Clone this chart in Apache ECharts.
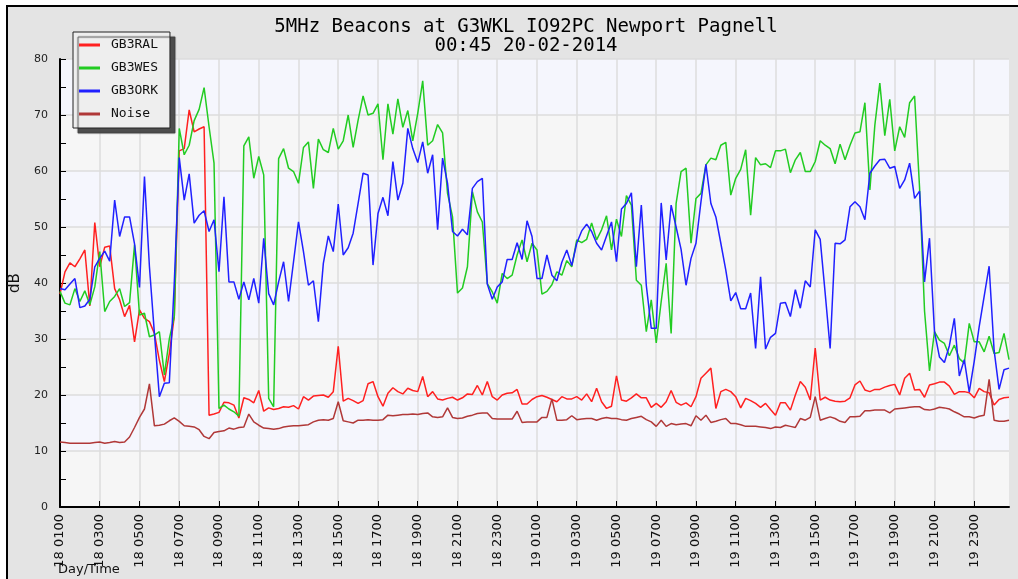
<!DOCTYPE html>
<html>
<head>
<meta charset="utf-8">
<script src="https://cdn.jsdelivr.net/npm/echarts@6/dist/echarts.min.js"></script>
<style>
  html, body { margin: 0; padding: 0; background: #fff; }
  #chart { width: 1018px; height: 579px; }
</style>
</head>
<body>
<div id="chart"></div>
<script>
// 15 minute samples, 18 01:00 .. 20 00:45
const categories = []
for (let i = 0; i < 192; i++) {
  const m = 60 + i * 15
  const day = 18 + Math.floor(m / 1440)
  const hm = m % 1440
  const hh = String(Math.floor(hm / 60)).padStart(2, '0')
  const mm = String(hm % 60).padStart(2, '0')
  categories.push(day + ' ' + hh + mm)
}

const gb3ral = [
  38, 42, 43.6, 42.9, 44.3, 45.9, 35.9, 50.8,
  42.9, 46.4, 46.6, 39, 37, 34, 36, 29.5,
  35.2, 33.7, 33.1, 31, 26.2, 22.4, 27.4, 34,
  63.6, 64, 70.9, 67, 67.5, 67.9, 16.4, 16.6,
  16.9, 18.7, 18.6, 18.2, 15.9, 19.5, 19.2, 18.6,
  20.8, 17.1, 17.7, 17.4, 17.6, 17.9, 17.8, 18.1,
  17.5, 19.7, 19.1, 19.8, 19.9, 20.0, 19.6, 20.6,
  28.7, 18.9, 19.4, 19.0, 18.5, 19.0, 22.0, 22.4,
  19.7, 18.0, 20.3, 21.3, 20.6, 20.2, 21.2, 20.8,
  20.6, 23.3, 19.7, 20.6, 19.3, 19.1, 19.4, 19.6,
  19.1, 19.5, 20.2, 20.1, 21.7, 20.0, 22.4, 19.7,
  19.1, 20.0, 20.3, 20.4, 21.0, 18.4, 18.4, 19.2,
  19.7, 19.9, 19.6, 19.2, 18.8, 19.7, 19.3, 19.3,
  19.7, 19.1, 20.2, 18.8, 21.2, 18.8, 17.6, 18.0,
  23.4, 19.1, 18.9, 19.5, 20.2, 19.5, 19.5, 17.8,
  18.5, 17.8, 18.8, 20.8, 18.7, 18.2, 18.6, 17.9,
  19.7, 23.0, 23.9, 24.8, 17.6, 20.6, 21.0, 20.6,
  19.7, 17.7, 19.4, 19.0, 18.5, 17.8, 18.5, 17.4,
  16.4, 18.6, 18.6, 17.3, 20.0, 22.4, 21.4, 19.1,
  28.4, 19.1, 19.6, 19.1, 18.9, 18.8, 18.9, 19.5,
  21.8, 22.5, 20.9, 20.6, 21.0, 21.0, 21.4, 21.7,
  21.9, 20.0, 23.0, 23.9, 20.9, 21.0, 19.6, 21.8,
  22.0, 22.3, 22.3, 21.6, 20.1, 20.6, 20.6, 20.4,
  19.5, 21.2, 20.6, 20.4, 18.2, 19.2, 19.5, 19.6
]

const gb3wes = [
  38.5, 36.4, 36.1, 39.0, 36.7, 38.6, 36.1, 39.3,
  45.6, 34.9, 36.7, 37.6, 39.0, 35.8, 36.5, 46.8,
  34.3, 34.6, 30.4, 30.7, 31.3, 23.6, 30, 34,
  67.6, 62.9, 64.6, 69, 71, 74.9, 67.9, 61.4,
  17.6, 18.2, 17.5, 17.0, 16.2, 64.5, 66.1, 58.7,
  62.6, 59.3, 19.4, 17.9, 62.2, 64, 60.5, 59.9,
  57.8, 64.2, 65.2, 56.9, 65.7, 63.8, 63.3, 67.6,
  63.9, 65.4, 70, 64.2, 69.1, 73.4, 70, 70.3,
  72, 62, 72, 66.6, 72.9, 67.8, 70.8, 65.4,
  70.3, 76.1, 64.6, 65.4, 68.3, 66.8, 56, 51.8,
  38.2, 39.1, 42.9, 56.3, 52.7, 50.9, 39.9, 38.4,
  36.4, 41.7, 40.8, 41.4, 45, 47.7, 43.8, 47.1,
  45.9, 38, 38.5, 39.7, 42, 41.4, 44, 42.9,
  47.7, 47.2, 47.8, 50.7, 47.7, 49.5, 52, 45.9,
  51.4, 48.3, 55.6, 53.9, 40.5, 39.6, 31.3, 37,
  29.3, 36.7, 43.5, 31, 54.2, 59.9, 60.5, 47.1,
  55.1, 56, 61.1, 62.3, 62, 64.6, 65.1, 55.7,
  58.7, 60.3, 63.8, 52.1, 62.4, 61.1, 61.3, 60.6,
  63.6, 63.6, 63.9, 59.7, 62, 63.3, 59.9, 59.9,
  61.7, 65.4, 64.6, 64, 61.3, 64.8, 62, 64.6,
  66.8, 67, 72.2, 56.6, 68.2, 75.7, 66.3, 72.8,
  63.6, 67.9, 66, 72.2, 73.4, 57, 35, 24.3,
  31.3, 29.8, 29.2, 27, 28.9, 26.5, 25.7, 32.8,
  29.5, 29.5, 27.7, 30.5, 27.4, 27.6, 31, 26.3
]

const gb3ork = [
  39, 38.8, 39.8, 40.8, 35.6, 35.9, 37.1, 42.9,
  44.4, 45.7, 43.9, 54.8, 48.3, 51.8, 51.8, 47,
  39.2, 59, 42.9, 31, 19.7, 22.1, 22.2, 40,
  62.4, 54.8, 59.5, 50.7, 52.1, 52.9, 49.2, 51.3,
  42, 55.4, 40.2, 40.2, 37.1, 40.2, 37, 40.8,
  36.4, 48, 38.1, 36.1, 40.2, 43.8, 36.7, 43.8,
  50.9, 45.6, 39.6, 40.4, 33.1, 43.5, 48.4, 45.6,
  54.1, 45, 46.3, 48.9, 54.2, 59.6, 59.3, 43.2,
  52.4, 55.3, 52, 61.7, 54.8, 57.8, 67.6, 64,
  61.5, 65.2, 59.6, 62.9, 49.5, 62.3, 57.8, 49.2,
  48.4, 49.6, 48.6, 56.9, 58.1, 58.7, 39.8, 37.1,
  39.3, 40.2, 44.2, 44.2, 47.2, 44.2, 51.1, 48.3,
  40.8, 40.8, 45, 41.4, 40.4, 43.7, 45.9, 43.1,
  47.1, 49.3, 50.5, 49.2, 47.1, 45.9, 48.4, 50.9,
  43.8, 53.2, 54.2, 56.1, 42.9, 53.9, 39.6, 31.9,
  31.9, 54.3, 44.1, 53.9, 50, 46, 39.6, 44.4,
  47.1, 54.5, 61.2, 54.2, 51.8, 47.1, 42.3, 36.8,
  38.3, 35.4, 35.4, 38.2, 28.3, 41.1, 28.2, 30.3,
  31, 36.4, 36.5, 34, 38.8, 35.5, 40.4, 39.3,
  49.5, 47.8, 38.2, 28.3, 47.1, 47, 47.7, 53.6,
  54.5, 53.6, 51.3, 59.6, 60.9, 62, 62.1, 60.5,
  60.8, 56.9, 58.4, 61.4, 55.1, 56.4, 40.2, 48,
  31.3, 26.8, 25.8, 28.8, 33.7, 23.4, 26.3, 20.5,
  26, 32.2, 37.6, 43, 28, 21, 24.5, 24.8
]

const noise = [
  11.6, 11.5, 11.4, 11.4, 11.4, 11.4, 11.4, 11.5,
  11.6, 11.4, 11.5, 11.7, 11.5, 11.6, 12.5, 14.2,
  16, 17.5, 22, 14.5, 14.6, 14.8, 15.4, 15.9,
  15.3, 14.5, 14.4, 14.3, 13.8, 12.6, 12.2, 13.3,
  13.5, 13.6, 14.1, 13.9, 14.2, 14.3, 16.6, 15.2,
  14.6, 14.1, 14.0, 13.9, 14.0, 14.3, 14.4, 14.5,
  14.5, 14.6, 14.7, 15.2, 15.5, 15.6, 15.5, 15.8,
  18.8, 15.4, 15.2, 15.0, 15.5, 15.5, 15.6, 15.5,
  15.5, 15.6, 16.4, 16.3, 16.4, 16.5, 16.5, 16.6,
  16.5, 16.7, 16.8, 16.1, 16.0, 16.1, 17.7, 16.0,
  15.8, 15.9, 16.2, 16.4, 16.7, 16.8, 16.8, 15.8,
  15.7, 15.7, 15.7, 15.7, 17.1, 15.1, 15.2, 15.2,
  15.2, 16.0, 16.0, 19.3, 15.5, 15.5, 15.6, 16.3,
  15.6, 15.7, 15.8, 15.8, 15.5, 15.8, 16.0, 15.8,
  15.8, 15.6, 15.5, 15.8, 16.0, 16.2, 15.6, 15.2,
  14.4, 15.5, 14.4, 14.9, 14.7, 14.8, 14.9, 14.5,
  16.3, 15.5, 16.4, 15.1, 15.3, 15.6, 15.8, 14.9,
  14.9, 14.7, 14.4, 14.4, 14.4, 14.3, 14.2, 14.0,
  14.3, 14.2, 14.6, 14.4, 14.2, 15.8, 15.5, 16.0,
  19.7, 15.5, 15.8, 16.1, 15.8, 15.3, 15.1, 16.1,
  16.1, 16.2, 17.2, 17.2, 17.3, 17.3, 17.3, 16.8,
  17.5, 17.6, 17.7, 17.8, 17.9, 17.9, 17.4, 17.3,
  17.5, 17.8, 17.7, 17.5, 17.0, 16.6, 16.1, 16.1,
  15.9, 16.2, 16.4, 22.8, 15.5, 15.3, 15.3, 15.5
]

const seriesNames = ['GB3RAL', 'GB3WES', 'GB3ORK', 'Noise']
const seriesColors = ['#ff2020', '#22cc22', '#2020ff', '#b03838']
const seriesData = [gb3ral, gb3wes, gb3ork, noise]

const chart = echarts.init(document.getElementById('chart'), null, { renderer: 'canvas' })

chart.setOption({
  animation: false,
  backgroundColor: '#ffffff',
  title: {
    text: '5MHz Beacons at G3WKL IO92PC Newport Pagnell\n00:45 20-02-2014',
    left: 521,
    top: 13,
    textAlign: 'center',
    textStyle: {
      fontFamily: 'DejaVu Sans Mono',
      fontSize: 19,
      fontWeight: 'normal',
      color: '#000',
      lineHeight: 19
    }
  },
  graphic: [
    {
      type: 'rect',
      z: -10,
      silent: true,
      shape: { x: 7, y: 6, width: 1030, height: 600 },
      style: { fill: '#e4e4e4', stroke: '#000', lineWidth: 2 }
    },
    {
      type: 'text',
      left: 58,
      top: 563,
      style: { text: 'Day/Time', font: '13px "DejaVu Sans"', fill: '#111' }
    }
  ],
  legend: {
    data: seriesNames,
    orient: 'vertical',
    left: 73,
    top: 32,
    padding: [6, 12, 7, 6],
    itemGap: 9,
    itemWidth: 21,
    itemHeight: 3,
    icon: 'rect',
    backgroundColor: '#eeeeee',
    borderColor: '#222',
    borderWidth: 1,
    shadowColor: 'rgba(60,60,60,0.9)',
    shadowBlur: 1,
    shadowOffsetX: 5,
    shadowOffsetY: 5,
    textStyle: {
      fontFamily: 'DejaVu Sans Mono',
      fontSize: 13,
      lineHeight: 14,
      color: '#111',
      padding: [0, 0, 0, 6]
    }
  },
  grid: {
    left: 60,
    right: 9,
    top: 59,
    bottom: 72
  },
  xAxis: {
    type: 'category',
    data: categories,
    boundaryGap: false,
    axisLine: { lineStyle: { color: '#000', width: 2 } },
    axisTick: { show: true, inside: true, length: 6, interval: 7, lineStyle: { color: '#000' } },
    axisLabel: {
      interval: 7,
      rotate: 90,
      margin: 7,
      fontFamily: 'DejaVu Sans',
      fontSize: 13,
      color: '#111'
    },
    splitLine: { show: true, interval: 7, lineStyle: { color: '#dcdcdc', width: 1.5 } }
  },
  yAxis: {
    type: 'value',
    min: 0,
    max: 80,
    interval: 10,
    name: 'dB',
    nameLocation: 'middle',
    nameGap: 33,
    nameRotate: 90,
    nameTextStyle: { fontFamily: 'DejaVu Sans', fontSize: 15, color: '#111' },
    axisLine: { show: true, lineStyle: { color: '#000', width: 2 } },
    axisTick: { show: true, inside: true, length: 6, lineStyle: { color: '#000' } },
    minorTick: { show: true, splitNumber: 2, length: 6, lineStyle: { color: '#000' } },
    axisLabel: { margin: 12, fontFamily: 'DejaVu Sans', fontSize: 11, color: '#222' },
    splitLine: { show: true, lineStyle: { color: '#dcdcdc', width: 1.5 } },
    splitArea: { show: true, areaStyle: { color: ['#f6f6f6', '#f5f6fd'] } }
  },
  series: seriesNames.map((name, k) => ({
    name: name,
    type: 'line',
    data: seriesData[k],
    showSymbol: false,
    symbol: 'none',
    color: seriesColors[k],
    lineStyle: { width: 1.5, color: seriesColors[k] }
  }))
})
</script>
</body>
</html>
